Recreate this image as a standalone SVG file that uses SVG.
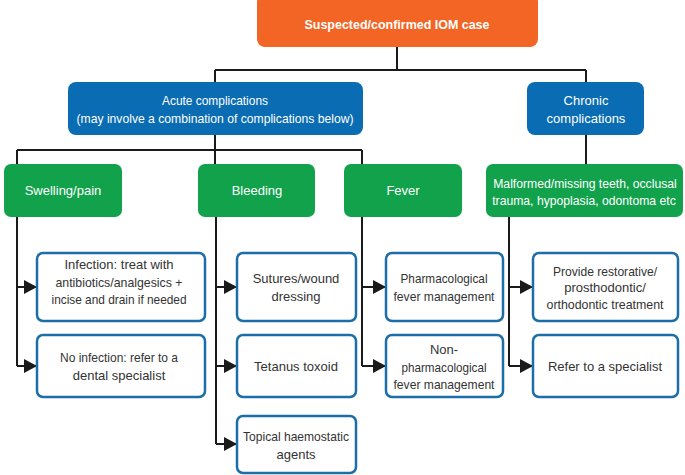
<svg xmlns="http://www.w3.org/2000/svg" width="685" height="475" viewBox="0 0 685 475">
<defs>
<style>
text{font-family:"Liberation Sans",Arial,sans-serif;font-size:13px;text-anchor:middle}
.or{fill:#f26524}
.bl{fill:#0a6cb2}
.gr{fill:#12a24c}
.wb{fill:#fff;stroke:#1c6ea8;stroke-width:2.5}
.wt{fill:#fff}
.dt{fill:#333}
.sm{font-size:12.2px}
.c{fill:none;stroke:#1a1a1a;stroke-width:2}
</style>
<marker id="ah" markerUnits="userSpaceOnUse" viewBox="0 0 13 14" markerWidth="13" markerHeight="14" refX="13" refY="7" orient="auto">
<path d="M0,0 L13,7 L0,14 z" fill="#1a1a1a"/>
</marker>
</defs>
<rect width="685" height="475" fill="#fff"/>
<g id="connectors">
<path class="c" d="M397 47 V70 M215 70 H586 M215 70 V82 M586 70 V82"/>
<path class="c" d="M215 135 V150 M17 150 H362 M17 150 V164 M215 150 V164 M362 150 V164 M586 135 V164"/>
<path class="c" d="M17 217 V366 M216 217 V444 M362 217 V366 M509 217 V366"/>
<path class="c" marker-end="url(#ah)" d="M17 287 H37"/>
<path class="c" marker-end="url(#ah)" d="M17 366 H37"/>
<path class="c" marker-end="url(#ah)" d="M216 287 H237"/>
<path class="c" marker-end="url(#ah)" d="M216 366 H237"/>
<path class="c" marker-end="url(#ah)" d="M216 444 H237"/>
<path class="c" marker-end="url(#ah)" d="M362 287 H386"/>
<path class="c" marker-end="url(#ah)" d="M362 366 H386"/>
<path class="c" marker-end="url(#ah)" d="M509 287 H533"/>
<path class="c" marker-end="url(#ah)" d="M509 366 H533"/>
</g>
<g id="n-top">
<rect class="or" x="257" y="-6" width="281" height="53" rx="8"/>
<text class="wt" x="397" y="29" font-weight="bold" textLength="185" lengthAdjust="spacingAndGlyphs">Suspected/confirmed IOM case</text>
</g>
<g id="n-acute">
<rect class="bl" x="68" y="82" width="295" height="53" rx="8"/>
<text class="wt" x="215" y="105" textLength="106" lengthAdjust="spacingAndGlyphs">Acute complications</text>
<text class="wt" x="215" y="123" textLength="277" lengthAdjust="spacingAndGlyphs">(may involve a combination of complications below)</text>
</g>
<g id="n-chronic">
<rect class="bl" x="527" y="82" width="117" height="53" rx="8"/>
<text class="wt" x="586" y="105">Chronic</text>
<text class="wt" x="586" y="123">complications</text>
</g>
<g id="n-swelling">
<rect class="gr" x="4" y="164" width="118" height="53" rx="7"/>
<text class="wt" x="63" y="195">Swelling/pain</text>
</g>
<g id="n-bleeding">
<rect class="gr" x="198" y="164" width="117" height="53" rx="7"/>
<text class="wt" x="257" y="195">Bleeding</text>
</g>
<g id="n-fever">
<rect class="gr" x="344" y="164" width="118" height="53" rx="7"/>
<text class="wt" x="403" y="195">Fever</text>
</g>
<g id="n-malformed">
<rect class="gr" x="486" y="164" width="197" height="53" rx="7"/>
<text class="wt sm" x="585" y="188">Malformed/missing teeth, occlusal</text>
<text class="wt sm" x="584" y="205">trauma, hypoplasia, odontoma etc</text>
</g>
<g id="n-infection">
<rect class="wb" x="37" y="253" width="168" height="68" rx="6"/>
<text class="dt" x="119" y="269">Infection: treat with</text>
<text class="dt" x="119" y="287" textLength="127" lengthAdjust="spacingAndGlyphs">antibiotics/analgesics +</text>
<text class="dt" x="119" y="304" textLength="135" lengthAdjust="spacingAndGlyphs">incise and drain if needed</text>
</g>
<g id="n-noinfection">
<rect class="wb" x="37" y="335" width="168" height="62" rx="6"/>
<text class="dt" x="119" y="362" textLength="118" lengthAdjust="spacingAndGlyphs">No infection: refer to a</text>
<text class="dt" x="119" y="380">dental specialist</text>
</g>
<g id="n-sutures">
<rect class="wb" x="237" y="253" width="119" height="68" rx="6"/>
<text class="dt" x="296" y="283">Sutures/wound</text>
<text class="dt" x="296" y="301">dressing</text>
</g>
<g id="n-tetanus">
<rect class="wb" x="237" y="335" width="119" height="62" rx="6"/>
<text class="dt" x="296" y="371">Tetanus toxoid</text>
</g>
<g id="n-topical">
<rect class="wb" x="237" y="416" width="119" height="57" rx="6"/>
<text class="dt" x="296" y="441" textLength="106" lengthAdjust="spacingAndGlyphs">Topical haemostatic</text>
<text class="dt" x="296" y="459">agents</text>
</g>
<g id="n-pharm">
<rect class="wb" x="386" y="253" width="117" height="68" rx="6"/>
<text class="dt" x="444" y="283" textLength="87" lengthAdjust="spacingAndGlyphs">Pharmacological</text>
<text class="dt" x="444" y="301" textLength="101" lengthAdjust="spacingAndGlyphs">fever management</text>
</g>
<g id="n-nonpharm">
<rect class="wb" x="386" y="335" width="117" height="62" rx="6"/>
<text class="dt" x="444" y="354">Non-</text>
<text class="dt" x="444" y="372" textLength="85" lengthAdjust="spacingAndGlyphs">pharmacological</text>
<text class="dt" x="444" y="389" textLength="101" lengthAdjust="spacingAndGlyphs">fever management</text>
</g>
<g id="n-provide">
<rect class="wb" x="533" y="253" width="145" height="68" rx="6"/>
<text class="dt" x="605" y="276" textLength="104" lengthAdjust="spacingAndGlyphs">Provide restorative/</text>
<text class="dt" x="605" y="292">prosthodontic/</text>
<text class="dt" x="605" y="309" textLength="117" lengthAdjust="spacingAndGlyphs">orthodontic treatment</text>
</g>
<g id="n-refer">
<rect class="wb" x="533" y="335" width="145" height="62" rx="6"/>
<text class="dt" x="605" y="371">Refer to a specialist</text>
</g>
</svg>
